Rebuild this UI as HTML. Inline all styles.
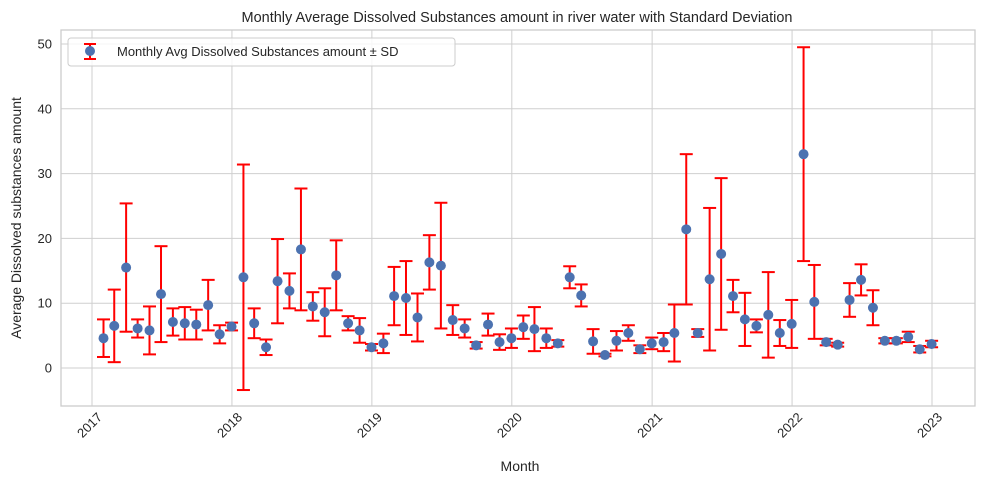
<!DOCTYPE html>
<html><head><meta charset="utf-8"><style>
body{margin:0;background:#fff;}
svg text{font-family:"Liberation Sans","DejaVu Sans",sans-serif;fill:#262626;}
</style></head><body>
<svg id="chart" width="984" height="484" xmlns="http://www.w3.org/2000/svg">
<text x="517" y="22" text-anchor="middle" font-size="14.5">Monthly Average Dissolved Substances amount in river water with Standard Deviation</text>
<g id="grid"></g><g id="marks"></g><g id="axes"></g>
<text x="520" y="471" text-anchor="middle" font-size="14">Month</text>
<text transform="translate(21,218) rotate(-90)" text-anchor="middle" font-size="14">Average Dissolved substances amount</text>
<g>
<rect x="68" y="38" width="387" height="28" rx="3" fill="#fff" fill-opacity="0.8" stroke="#ccc"/>
<line x1="90" y1="44" x2="90" y2="59" stroke="red" stroke-width="2"/>
<line x1="84" y1="44" x2="96" y2="44" stroke="red" stroke-width="2"/>
<line x1="84" y1="59" x2="96" y2="59" stroke="red" stroke-width="2"/>
<circle cx="90" cy="51" r="5" fill="#4c72b0"/>
<text x="117" y="56" font-size="13">Monthly Avg Dissolved Substances amount ± SD</text>
</g>
</svg>
<script>
const startYear = 2017;
const means = [4.6,6.5,15.5,6.1,5.8,11.4,7.1,6.9,6.7,9.7,5.2,6.4,
14.0,6.9,3.2,13.4,11.9,18.3,9.5,8.6,14.3,6.9,5.8,3.2,
3.8,11.1,10.8,7.8,16.3,15.8,7.4,6.1,3.5,6.7,4.0,4.6,
6.3,6.0,4.6,3.8,14.0,11.2,4.1,2.0,4.2,5.4,2.9,3.8,
4.0,5.4,21.4,5.4,13.7,17.6,11.1,7.5,6.5,8.2,5.4,6.8,
33.0,10.2,4.0,3.6,10.5,13.6,9.3,4.2,4.2,4.8,2.9,3.7];
const sds = [2.9,5.6,9.9,1.4,3.7,7.4,2.1,2.5,2.3,3.9,1.4,0.6,
17.4,2.3,1.2,6.5,2.7,9.4,2.2,3.7,5.4,1.1,1.9,0.5,
1.5,4.5,5.7,3.7,4.2,9.7,2.3,1.4,0.5,1.7,1.2,1.5,
1.8,3.4,1.5,0.5,1.7,1.7,1.9,0.2,1.5,1.2,0.6,0.9,
1.4,4.4,11.6,0.6,11.0,11.7,2.5,4.1,1.0,6.6,2.0,3.7,
16.5,5.7,0.5,0.3,2.6,2.4,2.7,0.4,0.4,0.8,0.5,0.5];
const yTicks = [0,10,20,30,40,50];
const xTickYears = [2017,2018,2019,2020,2021,2022,2023];

const NS="http://www.w3.org/2000/svg";
const L=61,R=975,T=30,B=406;
const t0=Date.UTC(2017,0,1), t1=Date.UTC(2023,0,1);
function xs(t){return 92+(t-t0)/(t1-t0)*840;}
function ys(v){return 368-v*6.48;}
function mk(tag,attrs,parent){const e=document.createElementNS(NS,tag);for(const k in attrs)e.setAttribute(k,attrs[k]);parent.appendChild(e);return e;}
const grid=document.getElementById('grid'),marks=document.getElementById('marks'),axes=document.getElementById('axes');
mk('rect',{x:L,y:T,width:R-L,height:B-T,fill:'#fff'},grid);
yTicks.forEach(v=>{
  const y=ys(v);
  const g=mk('line',{x1:L,x2:R,y1:y,y2:y,stroke:'#cfcfcf','stroke-width':1},grid);
  
  
  const t=mk('text',{x:L-9,y:y+4.5,'text-anchor':'end','font-size':13},axes);
  t.textContent=v;
  
  
});
xTickYears.forEach(yr=>{
  const x=xs(Date.UTC(yr,0,1));
  const g=mk('line',{x1:x,x2:x,y1:T,y2:B,stroke:'#cfcfcf','stroke-width':1},grid);
  
  
  const t=mk('text',{transform:`translate(${x+11},${B+12}) rotate(-45)`,'text-anchor':'end','font-size':13},axes);
  t.textContent=yr;
  
  
});
const frame=mk('rect',{x:L,y:T,width:R-L,height:B-T,fill:'none',stroke:'#ccc','stroke-width':1.3},axes);


means.forEach((m,i)=>{
  const yr=startYear+Math.floor(i/12),mo=i%12;
  const x=xs(Date.UTC(yr,mo+1,0));
  const s=sds[i];
  const g=mk('g',{},marks);
  
  
  mk('line',{x1:x,x2:x,y1:ys(m-s),y2:ys(m+s),stroke:'red','stroke-width':2},g);
  mk('line',{x1:x-6.5,x2:x+6.5,y1:ys(m-s),y2:ys(m-s),stroke:'red','stroke-width':2},g);
  mk('line',{x1:x-6.5,x2:x+6.5,y1:ys(m+s),y2:ys(m+s),stroke:'red','stroke-width':2},g);
});
means.forEach((m,i)=>{
  const yr=startYear+Math.floor(i/12),mo=i%12;
  const x=xs(Date.UTC(yr,mo+1,0));
  const c=mk('circle',{cx:x,cy:ys(m),r:5,fill:'#4c72b0'},marks);
  
  
});
</script>
</body></html>
